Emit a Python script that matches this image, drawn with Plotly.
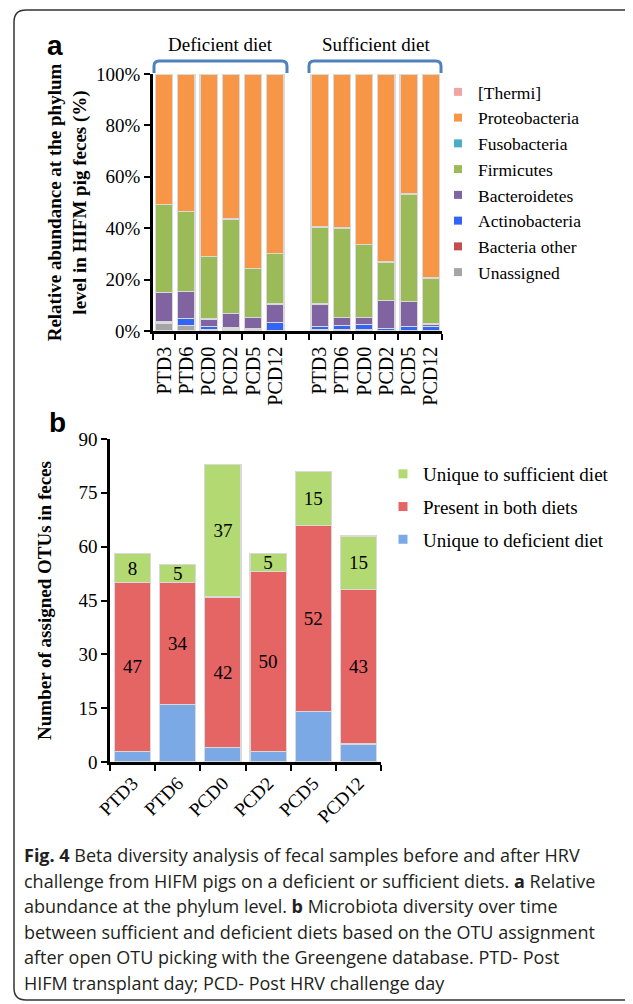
import plotly.graph_objects as go

# The page body adds an 8px margin, so the figure is drawn 8px smaller and all
# reference-pixel positions are shifted by that offset.
OFF = 8
W, H = 633 - OFF, 1004 - OFF
SERIF = "Liberation Serif"
SANS = "Liberation Sans"

def PX(x):
    return (x - OFF) / W

def PY(y):
    return 1 - (y - OFF) / H

# ---------------- Panel a data ----------------
samples = ["PTD3", "PTD6", "PCD0", "PCD2", "PCD5", "PCD12"]
phyla = ["[Thermi]", "Proteobacteria", "Fusobacteria", "Firmicutes",
         "Bacteroidetes", "Actinobacteria", "Bacteria other", "Unassigned"]
phyla_colors = ["#f2a3a3", "#f79646", "#4bacc6", "#9bbb59",
                "#8064a2", "#3264f5", "#c0504d", "#a5a5a5"]

deficient = {
    "Unassigned":     [3.0, 2.1, 0.3, 0.3, 0.3, 0.2],
    "Bacteria other": [0.1, 0.1, 0.1, 0.1, 0.1, 0.1],
    "Actinobacteria": [0.6, 2.7, 1.5, 0.8, 0.6, 3.0],
    "Bacteroidetes":  [11.2, 10.5, 2.8, 5.7, 4.3, 7.2],
    "Firmicutes":     [34.4, 31.0, 24.3, 36.7, 19.0, 19.7],
    "Fusobacteria":   [0.05, 0.05, 0.05, 0.05, 0.05, 0.05],
    "Proteobacteria": [50.6, 53.5, 70.9, 56.3, 75.6, 69.7],
    "[Thermi]":       [0.05, 0.05, 0.05, 0.05, 0.05, 0.05],
}
sufficient = {
    "Unassigned":     [0.3, 0.3, 0.3, 0.2, 0.2, 0.2],
    "Bacteria other": [0.1, 0.1, 0.1, 0.1, 0.1, 0.1],
    "Actinobacteria": [1.3, 1.7, 2.0, 0.6, 1.5, 1.6],
    "Bacteroidetes":  [8.8, 3.1, 2.9, 10.9, 9.7, 0.8],
    "Firmicutes":     [30.0, 34.9, 28.3, 15.0, 41.8, 17.9],
    "Fusobacteria":   [0.05, 0.05, 0.05, 0.05, 0.05, 0.05],
    "Proteobacteria": [59.4, 59.8, 66.3, 73.1, 46.6, 79.3],
    "[Thermi]":       [0.05, 0.05, 0.05, 0.05, 0.05, 0.05],
}
group_labels = ["Deficient diet", "Sufficient diet"]

# ---------------- Panel b data ----------------
otu_unique_def = [3, 16, 4, 3, 14, 5]
otu_both = [47, 34, 42, 50, 52, 43]
otu_unique_suf = [8, 5, 37, 5, 15, 15]
otu_names = ["Unique to sufficient diet", "Present in both diets", "Unique to deficient diet"]
otu_colors = ["#b3da72", "#e56464", "#7aa9e6"]

fig = go.Figure()

def_ids = ["d_" + s for s in samples]
suf_ids = ["s_" + s for s in samples]
cat_ids = def_ids + ["gap"] + suf_ids
cat_text = samples + [""] + samples

stack_order = ["Unassigned", "Bacteria other", "Actinobacteria", "Bacteroidetes",
               "Firmicutes", "Fusobacteria", "Proteobacteria", "[Thermi]"]
color_of = dict(zip(phyla, phyla_colors))

for ph in stack_order:
    yvals = deficient[ph] + [None] + sufficient[ph]
    fig.add_trace(go.Bar(
        x=cat_ids, y=yvals, name=ph, width=0.78,
        marker=dict(color=color_of[ph], line=dict(color="#d9d9d9", width=1.2)),
        showlegend=False, xaxis="x", yaxis="y", hoverinfo="x+y+name"))

for ph, col in zip(phyla, phyla_colors):
    fig.add_trace(go.Scatter(
        x=[None], y=[None], mode="markers", name=ph,
        marker=dict(symbol="square", size=8, color=col),
        legend="legend", xaxis="x", yaxis="y"))

bar_text_font = dict(family=SERIF, size=19, color="black")
fig.add_trace(go.Bar(
    x=samples, y=otu_unique_def, name=otu_names[2], width=0.8,
    marker=dict(color=otu_colors[2], line=dict(color="#d9d9d9", width=1.2)),
    showlegend=False, xaxis="x2", yaxis="y2"))
fig.add_trace(go.Bar(
    x=samples, y=otu_both, name=otu_names[1], width=0.8,
    marker=dict(color=otu_colors[1], line=dict(color="#d9d9d9", width=1.2)),
    text=otu_both, texttemplate="%{text}", textposition="inside", textangle=0,
    insidetextanchor="middle", textfont=bar_text_font,
    showlegend=False, xaxis="x2", yaxis="y2"))
fig.add_trace(go.Bar(
    x=samples, y=otu_unique_suf, name=otu_names[0], width=0.8,
    marker=dict(color=otu_colors[0], line=dict(color="#d9d9d9", width=1.2)),
    text=otu_unique_suf, texttemplate="%{text}", textposition="inside", textangle=0,
    insidetextanchor="middle", textfont=bar_text_font,
    showlegend=False, xaxis="x2", yaxis="y2"))

for i, (nm, col) in enumerate(zip(otu_names, otu_colors)):
    fig.add_trace(go.Scatter(
        x=[None], y=[None], mode="markers", name=nm, legendgroup="g%d" % i,
        marker=dict(symbol="square", size=9, color=col),
        legend="legend2", xaxis="x2", yaxis="y2"))

axis_common = dict(showline=True, linecolor="black", linewidth=2.5, ticks="outside",
                   ticklen=6, tickwidth=2, tickcolor="black", showgrid=False,
                   zeroline=False, automargin=False)
tick_font = dict(family=SERIF, size=19, color="black")

fig.update_layout(
    width=W, height=H, autosize=False,
    margin=dict(l=0, r=0, t=0, b=0),
    paper_bgcolor="white", plot_bgcolor="white",
    barmode="stack",
    uniformtext=dict(minsize=19, mode="show"),
    xaxis=dict(domain=[PX(153), PX(442)], anchor="y", type="category",
               categoryorder="array", categoryarray=cat_ids,
               tickmode="array", tickvals=cat_ids, ticktext=cat_text,
               tickangle=-90, tickson="boundaries", ticklabelstandoff=5,
               tickfont=dict(family=SERIF, size=20, color="black"), **axis_common),
    yaxis=dict(domain=[PY(331), PY(74)], anchor="x", range=[0, 100], dtick=20,
               ticksuffix="%", tickfont=tick_font,
               title=dict(text="Relative abundance at the phylum<br>level in HIFM pig feces (%)",
                          font=dict(family=SERIF, size=19, color="black", weight="bold"),
                          standoff=5),
               **axis_common),
    xaxis2=dict(domain=[PX(110), PX(381)], anchor="y2", type="category",
                categoryorder="array", categoryarray=samples,
                tickangle=-45, tickson="boundaries", tickfont=tick_font, **axis_common),
    yaxis2=dict(domain=[PY(762), PY(439)], anchor="x2", range=[0, 90], dtick=15,
                tickfont=tick_font,
                title=dict(text="Number of assigned OTUs in feces",
                           font=dict(family=SERIF, size=19, color="black", weight="bold"),
                           standoff=22),
                **axis_common),
    legend=dict(x=PX(438), y=PY(74), xanchor="left", yanchor="top",
                font=dict(family=SERIF, size=17.5, color="black"),
                bgcolor="rgba(0,0,0,0)", traceorder="normal"),
    legend2=dict(x=PX(383), y=PY(455), xanchor="left", yanchor="top",
                 font=dict(family=SERIF, size=19, color="black"),
                 bgcolor="rgba(0,0,0,0)", traceorder="grouped", tracegroupgap=5),
)

# frame
r = 12
frame = (f"M {PX(645)},{PY(10)} L {PX(26)},{PY(10)} Q {PX(14)},{PY(10)} {PX(14)},{PY(10 + r)} "
         f"L {PX(14)},{PY(1000 - r)} Q {PX(14)},{PY(1000)} {PX(26)},{PY(1000)} L {PX(645)},{PY(1000)}")
shapes = [dict(type="path", xref="paper", yref="paper", path=frame,
               line=dict(color="#333333", width=1.5))]

def bracket(x0, x1, ytop, ybot, rad=5):
    return (f"M {PX(x0)},{PY(ybot)} L {PX(x0)},{PY(ytop + rad)} Q {PX(x0)},{PY(ytop)} {PX(x0 + rad)},{PY(ytop)} "
            f"L {PX(x1 - rad)},{PY(ytop)} Q {PX(x1)},{PY(ytop)} {PX(x1)},{PY(ytop + rad)} L {PX(x1)},{PY(ybot)}")

for x0, x1 in [(154, 287), (309, 441)]:
    shapes.append(dict(type="path", xref="paper", yref="paper", path=bracket(x0, x1, 61, 73),
                       line=dict(color="#4f81bd", width=3)))
fig.update_layout(shapes=shapes)

ann = []
for lbl, xc in zip(group_labels, [220, 376]):
    ann.append(dict(text=lbl, x=PX(xc), y=PY(44), xref="paper", yref="paper",
                    showarrow=False, xanchor="center", yanchor="middle",
                    font=dict(family=SERIF, size=19, color="black")))
ann.append(dict(text="<b>a</b>", x=PX(55), y=PY(45), xref="paper", yref="paper",
                showarrow=False, xanchor="center", yanchor="middle",
                font=dict(family=SANS, size=28, color="black")))
ann.append(dict(text="<b>b</b>", x=PX(57), y=PY(422), xref="paper", yref="paper",
                showarrow=False, xanchor="center", yanchor="middle",
                font=dict(family=SANS, size=28, color="black")))

caption_lines = [
    "<b>Fig. 4</b> Beta diversity analysis of fecal samples before and after HRV",
    "challenge from HIFM pigs on a deficient or sufficient diets. <b>a</b> Relative",
    "abundance at the phylum level. <b>b</b> Microbiota diversity over time",
    "between sufficient and deficient diets based on the OTU assignment",
    "after open OTU picking with the Greengene database. PTD- Post",
    "HIFM transplant day; PCD- Post HRV challenge day",
]
for i, line in enumerate(caption_lines):
    ann.append(dict(text=line, x=PX(22), y=PY(855 + i * 25.6), xref="paper", yref="paper",
                    showarrow=False, xanchor="left", yanchor="middle",
                    font=dict(family="Open Sans", size=18, color="#231f20")))
fig.update_layout(annotations=ann)

fig.write_html("out.html")
